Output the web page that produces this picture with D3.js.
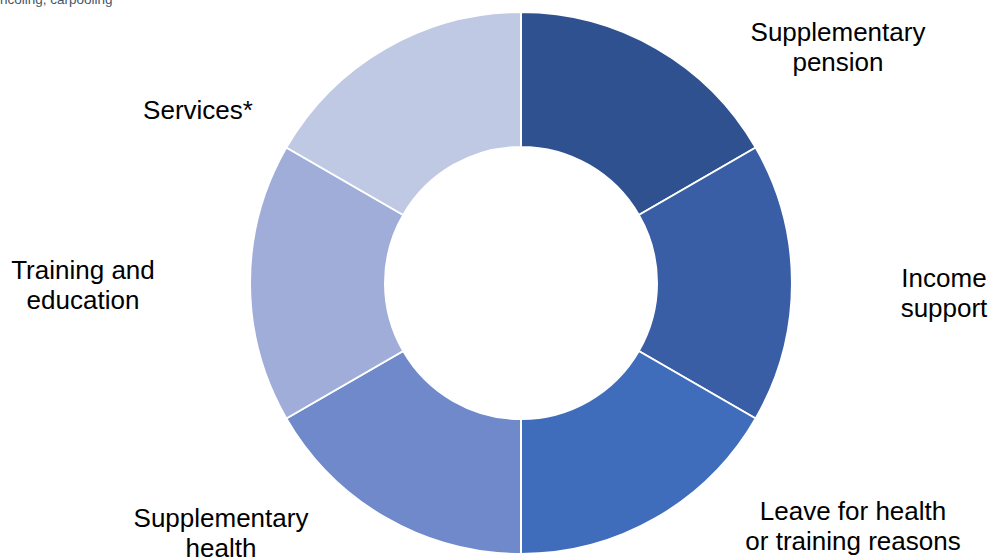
<!DOCTYPE html>
<html>
<head>
<meta charset="utf-8">
<script src="https://cdn.jsdelivr.net/npm/d3@7"></script>
<style>
  body { margin: 0; background: #fff; }
  svg { display: block; }
</style>
</head>
<body>
<div id="chart"></div>
<script>
// benefit categories, clockwise from 12 o'clock
const categories = ["Supplementary pension", "Income support", "Leave for health or training reasons",
  "Supplementary health", "Training and education", "Services*"];
const values = [1, 1, 1, 1, 1, 1];
const labelLines = [
  ["Supplementary", "pension"],
  ["Income", "support"],
  ["Leave for health", "or training reasons"],
  ["Supplementary", "health"],
  ["Training and", "education"],
  ["Services*"]
];
const colors = ["#2F5190", "#3A5EA6", "#406CBC", "#6F89CB", "#9FADD8", "#BFC9E4"];

const width = 992, height = 559;
const cx = 521, cy = 283;
const outerR = 271, innerR = 136;

let svg = d3.select("#chart").append("svg")
  .attr("width", width)
  .attr("height", height);

// clipped footnote text at top left
svg.append("text")
  .attr("x", 0)
  .attr("y", 4)
  .style("font-family", "Liberation Sans, Arial, sans-serif")
  .style("font-size", "13.5px")
  .style("fill", "#44546A")
  .text("ncoling, carpooling");

let data = categories.map((c, i) => ({ name: c, value: values[i], lines: labelLines[i] }));

let pie = d3.pie().sort(null).value(d => d.value);
let arc = d3.arc().innerRadius(innerR).outerRadius(outerR);

let g = svg.append("g").attr("transform", "translate(" + cx + "," + cy + ")");

g.selectAll("path")
  .data(pie(data))
  .enter().append("path")
  .attr("d", arc)
  .style("fill", (d, i) => colors[i])
  .style("stroke", "#fff")
  .style("stroke-width", 2);

// label anchor points (centre of text block) - hand placed like the original
const labelPos = [[838, 47], [944, 293], [853, 526], [221, 533], [83, 285], [198, 110]];

let labels = svg.selectAll(".lbl")
  .data(data)
  .enter().append("text")
  .attr("class", "lbl")
  .attr("text-anchor", "middle")
  .style("font-family", "Liberation Sans, Arial, sans-serif")
  .style("font-size", "26px")
  .style("fill", "#000");

labels.each(function(d, i) {
  let t = d3.select(this);
  let n = d.lines.length;
  d.lines.forEach((line, j) => {
    t.append("tspan")
      .attr("x", labelPos[i][0])
      .attr("y", labelPos[i][1] + (j - (n - 1) / 2) * 30 + 9)
      .text(line);
  });
});
</script>
</body>
</html>
